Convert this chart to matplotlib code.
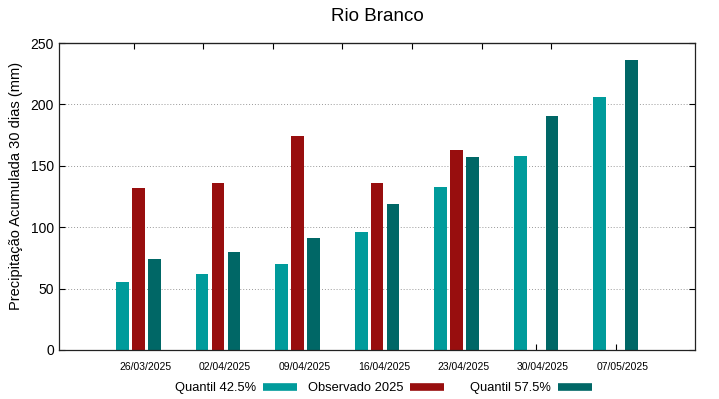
import matplotlib.pyplot as plt
from matplotlib.lines import Line2D
import numpy as np

plt.rcParams['font.family'] = ['Liberation Sans', 'DejaVu Sans']

datas = ["26/03/2025", "02/04/2025", "09/04/2025", "16/04/2025",
         "23/04/2025", "30/04/2025", "07/05/2025"]
q425 = [55, 62, 70, 96, 133, 158, 206]
observado = [132, 136, 174, 136, 163, np.nan, np.nan]
q575 = [74, 80, 91, 119, 157, 191, 236]

series_names = ["Quantil 42.5%", "Observado 2025", "Quantil 57.5%"]
c_q425 = "#009b9b"
c_obs = "#980e0e"
c_q575 = "#006766"

x = np.arange(len(datas))
w = 0.16

fig = plt.figure(figsize=(7.19, 3.99), dpi=100)
ax = fig.add_axes([0.082, 0.123, 0.885, 0.769])

ax.bar(x - 0.2, q425, w, color=c_q425)
ax.bar(x, observado, w, color=c_obs)
ax.bar(x + 0.2, q575, w, color=c_q575)

ax.set_xlim(-1, 7)
ax.set_ylim(0, 250)
ax.set_yticks([0, 50, 100, 150, 200, 250])
# ticks at group centres, labels drawn slightly to the right (gnuplot look)
ax.set_xticks(x)
ax.set_xticklabels([])
ax.set_xticks(x + 0.0875, minor=True)
ax.set_xticklabels(datas, minor=True, fontsize=7.5)
ax.tick_params(axis='x', which='major', direction='in', length=4, top=False)
ax.tick_params(axis='x', which='minor', length=0, pad=9)
ax.tick_params(axis='y', direction='in', length=4, labelsize=10, right=True)
ax.set_axisbelow(True)
ax.yaxis.grid(True, linestyle=(0, (1, 2)), color='#999999', linewidth=0.7)

# mirrored ticks along the top edge
top = ax.secondary_xaxis('top')
top.set_xticks(-0.0625 + 0.875 * np.arange(7))
top.tick_params(direction='in', length=4, labeltop=False)

for s in ax.spines.values():
    s.set_linewidth(0.9)
    s.set_color('#222222')

ax.set_ylabel("Precipitação Acumulada 30 dias (mm)", fontsize=10.5)
ax.yaxis.set_label_coords(-0.057, 0.534)
ax.set_title("Rio Branco", fontsize=13.5, pad=16)

# gnuplot-style key: equal columns, text right-justified before the sample
key_right = [0.413, 0.6175, 0.823]
for name, c, xr in zip(series_names, (c_q425, c_obs, c_q575), key_right):
    h = Line2D([], [], color=c, lw=5.5, solid_capstyle='butt')
    leg = fig.legend([h], [name], loc='center right', bbox_to_anchor=(xr, 0.027),
                     frameon=False, markerfirst=False, fontsize=9.3,
                     handlelength=2.6, handletextpad=0.55, borderpad=0,
                     borderaxespad=0)

fig.savefig("out.png", dpi=100)
